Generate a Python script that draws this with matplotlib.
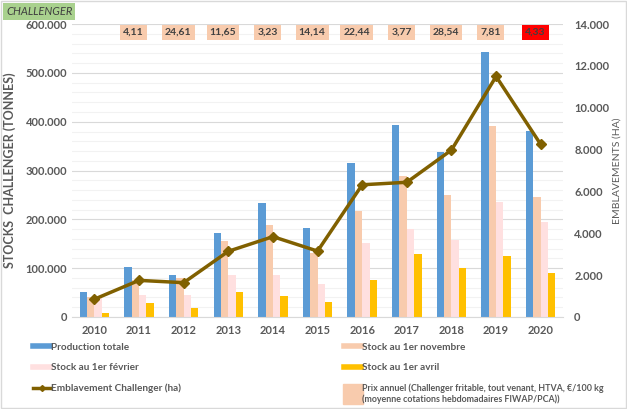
import numpy as np
import matplotlib.pyplot as plt
from matplotlib.lines import Line2D
from matplotlib.ticker import FuncFormatter, MultipleLocator

plt.rcParams['font.family'] = ['Lato', 'DejaVu Sans']

years = ['2010', '2011', '2012', '2013', '2014', '2015', '2016', '2017', '2018', '2019', '2020']
production = [51000, 103000, 87000, 173000, 234000, 183000, 315000, 393000, 338000, 543000, 382000]
stock_nov = [41000, 76000, 79000, 156000, 188000, 132000, 218000, 288000, 249000, 391000, 246000]
stock_feb = [38000, 45000, 44000, 87000, 86000, 67000, 151000, 180000, 158000, 236000, 195000]
stock_avr = [7500, 29000, 19000, 52000, 42000, 31000, 76000, 130000, 100000, 125000, 90000]
emblavement = [850, 1750, 1640, 3140, 3840, 3150, 6320, 6440, 7980, 11500, 8250]
prix_years = ['2011', '2012', '2013', '2014', '2015', '2016', '2017', '2018', '2019', '2020']
prix = ['4,11', '24,61', '11,65', '3,23', '14,14', '22,44', '3,77', '28,54', '7,81', '4,33']

gray = '#595959'
c_blue = '#5B9BD5'
c_peach = '#F8CBAD'
c_pink = '#FFE0E0'
c_yellow = '#FFC000'
c_line = '#806000'

fig = plt.figure(figsize=(6.27, 4.09), dpi=100)
ax = fig.add_axes([0.115, 0.225, 0.783, 0.716])
ax2 = ax.twinx()

x = np.arange(len(years))
w = 0.165
ax.bar(x - 1.5 * w, production, w, color=c_blue, zorder=2)
ax.bar(x - 0.5 * w, stock_nov, w, color=c_peach, zorder=2)
ax.bar(x + 0.5 * w, stock_feb, w, color=c_pink, zorder=2)
ax.bar(x + 1.5 * w, stock_avr, w, color=c_yellow, zorder=2)

ax2.plot(x, emblavement, color=c_line, lw=2.5, marker='D', markersize=5, zorder=3)

ax.set_xlim(-0.5, 10.5)
ax.set_ylim(0, 600000)
ax2.set_ylim(0, 14000)
ax.yaxis.set_major_locator(MultipleLocator(100000))
ax.yaxis.set_minor_locator(MultipleLocator(20000))
ax2.yaxis.set_major_locator(MultipleLocator(2000))

thou = FuncFormatter(lambda v, p: '0' if v == 0 else f'{int(v):,}'.replace(',', '.'))
ax.yaxis.set_major_formatter(thou)
ax2.yaxis.set_major_formatter(thou)

ax.grid(which='major', axis='y', color='#D9D9D9', lw=0.8, zorder=0)
ax.grid(which='minor', axis='y', color='#F2F2F2', lw=0.8, zorder=0)
ax.set_axisbelow(True)

for a in (ax, ax2):
    for s in a.spines.values():
        s.set_visible(False)
    a.tick_params(length=0, colors=gray, labelsize=8)
    for lab in a.get_yticklabels():
        lab.set_fontweight('bold')
ax.spines['bottom'].set_visible(True)
ax.spines['bottom'].set_color('#D9D9D9')
ax.set_xticks(x)
ax.set_xticklabels(years, fontweight='bold')
ax.tick_params(axis='x', pad=6)
ax.tick_params(axis='y', which='minor', length=0)
ax2.tick_params(axis='y', pad=8)

ax.set_ylabel('STOCKS  CHALLENGER (TONNES)', color=gray, fontsize=9, fontweight='bold')
ax.yaxis.set_label_coords(-0.114, 0.5)
ax2.set_ylabel('EMBLAVEMENTS (HA)', color=gray, fontsize=7.5)
ax2.yaxis.set_label_coords(1.1, 0.5)

# price labels on top
for yr, p in zip(prix_years, prix):
    i = years.index(yr)
    fc = '#FF0000' if yr == '2020' else c_peach
    ax.text(i - 0.12, 583000, p, ha='center', va='center', fontsize=7.5, fontweight='bold',
            color='#404040', bbox=dict(boxstyle='square,pad=0.3', fc=fc, ec='none'), zorder=4)

fig.text(0.01, 0.972, 'CHALLENGER', ha='left', va='center', fontsize=8, style='italic',
         color='#404040', bbox=dict(boxstyle='square,pad=0.25', fc='#A9D18E', ec='none'))

handles = [
    Line2D([], [], color=c_blue, lw=4),
    Line2D([], [], color=c_pink, lw=4),
    Line2D([], [], color=c_line, lw=2.5, marker='D', markersize=3),
    Line2D([], [], color=c_peach, lw=4),
    Line2D([], [], color=c_yellow, lw=4),
    Line2D([], [], color=c_peach, marker='s', markersize=14, lw=0),
]
labels = ['Production totale', 'Stock au 1er février', 'Emblavement Challenger (ha)',
          'Stock au 1er novembre', 'Stock au 1er avril',
          'Prix annuel (Challenger fritable, tout venant, HTVA, €/100 kg\n(moyenne cotations hebdomadaires FIWAP/PCA))']
leg = fig.legend(handles, labels, ncol=2, loc='upper left', bbox_to_anchor=(0.047, 0.172),
                 frameon=False, fontsize=7.2, handlelength=1.7, handletextpad=0.1,
                 columnspacing=16.3, labelspacing=1.15, borderaxespad=0)
for t in leg.get_texts():
    t.set_color(gray)
    t.set_fontweight('bold')
leg.get_texts()[-1].set_fontsize(6.4)

fig.patches.append(plt.Rectangle((0.002, 0.002), 0.996, 0.996, transform=fig.transFigure,
                                 fill=False, ec='#D9D9D9', lw=1))

fig.savefig('out.png', dpi=100)
